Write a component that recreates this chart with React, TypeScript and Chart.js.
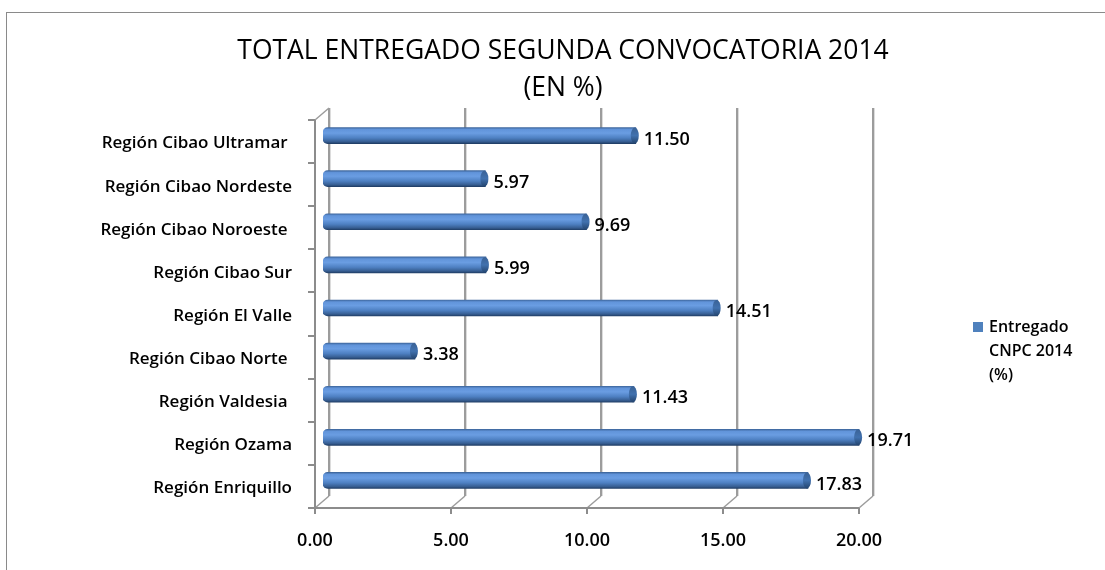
import React, { useEffect, useRef } from "react";
import { Chart, registerables } from "chart.js";

Chart.register(...registerables);

const categories = [
  "Región Cibao Ultramar ",
  "Región Cibao Nordeste",
  "Región Cibao Noroeste ",
  "Región Cibao Sur",
  "Región El Valle",
  "Región Cibao Norte ",
  "Región Valdesia ",
  "Región Ozama",
  "Región Enriquillo",
];
const values = [11.5, 5.97, 9.69, 5.99, 14.51, 3.38, 11.43, 19.71, 17.83];
const xTicks = [0, 5, 10, 15, 20];
const seriesLabel = "Entregado CNPC 2014 (%)";
const legendLines = ["Entregado", "CNPC 2014", "(%)"];
const titleLines = ["TOTAL ENTREGADO SEGUNDA CONVOCATORIA 2014", "(EN %)"];

const FONT = "'Open Sans', 'DejaVu Sans', sans-serif";
const FRONT_DX = -8;
const FRONT_DY = 6;
const BACK_DX = 6;
const BACK_DY = -6;

const wallsPlugin = {
  id: "walls3d",
  beforeDatasetsDraw(chart: any) {
    const ctx = chart.ctx;
    const xs = chart.scales.x;
    const ys = chart.scales.y;
    const { top, bottom } = chart.chartArea;
    ctx.save();
    xTicks.forEach((v) => {
      const x = Math.round(xs.getPixelForValue(v)) + BACK_DX;
      ctx.strokeStyle = "#dcdcdc";
      ctx.lineWidth = 1;
      ctx.beginPath();
      ctx.moveTo(x + 1.5, top + BACK_DY);
      ctx.lineTo(x + 1.5, bottom + BACK_DY);
      ctx.stroke();
      ctx.strokeStyle = "#9c9c9c";
      ctx.lineWidth = 2;
      ctx.beginPath();
      ctx.moveTo(x, top + BACK_DY);
      ctx.lineTo(x, bottom + BACK_DY);
      ctx.stroke();
      ctx.lineWidth = 1.5;
      ctx.beginPath();
      ctx.moveTo(x - BACK_DX + FRONT_DX, bottom + FRONT_DY);
      ctx.lineTo(x, bottom + BACK_DY);
      ctx.stroke();
    });
    const x0 = Math.round(xs.getPixelForValue(0));
    ctx.strokeStyle = "#9c9c9c";
    ctx.lineWidth = 1.5;
    ctx.beginPath();
    ctx.moveTo(x0 + FRONT_DX, top + FRONT_DY);
    ctx.lineTo(x0 + BACK_DX, top + BACK_DY);
    ctx.stroke();
    ctx.strokeStyle = "#8c8c8c";
    ctx.lineWidth = 2;
    ctx.beginPath();
    ctx.moveTo(x0 + FRONT_DX, top + FRONT_DY);
    ctx.lineTo(x0 + FRONT_DX, bottom + FRONT_DY + 1);
    ctx.stroke();
    for (let i = 0; i <= categories.length; i++) {
      const y = Math.round(ys.getPixelForValue(i - 0.5)) + FRONT_DY;
      ctx.beginPath();
      ctx.moveTo(x0 + FRONT_DX - 7, y);
      ctx.lineTo(x0 + FRONT_DX, y);
      ctx.stroke();
    }
    const x20 = Math.round(xs.getPixelForValue(20));
    const yb = Math.round(bottom) + FRONT_DY;
    ctx.beginPath();
    ctx.moveTo(x0 + FRONT_DX - 7, yb);
    ctx.lineTo(x20 + FRONT_DX, yb);
    ctx.stroke();
    xTicks.forEach((v) => {
      const x = Math.round(xs.getPixelForValue(v)) + FRONT_DX;
      ctx.beginPath();
      ctx.moveTo(x, yb);
      ctx.lineTo(x, yb + 6);
      ctx.stroke();
    });
    ctx.restore();
  },
  afterDatasetsDraw(chart: any) {
    const ctx = chart.ctx;
    const meta = chart.getDatasetMeta(0);
    ctx.save();
    meta.data.forEach((bar: any, i: number) => {
      const h = bar.height;
      const xe = bar.x;
      const yc = bar.y;
      const g = ctx.createLinearGradient(0, yc - h / 2, 0, yc + h / 2);
      g.addColorStop(0, "#3a6296");
      g.addColorStop(0.5, "#4171ae");
      g.addColorStop(1, "#23446e");
      ctx.fillStyle = g;
      ctx.beginPath();
      ctx.ellipse(xe - 1, yc, 4, h / 2, 0, 0, Math.PI * 2);
      ctx.fill();
      ctx.fillStyle = "#000";
      ctx.font = `600 18px ${FONT}`;
      ctx.textAlign = "left";
      ctx.textBaseline = "middle";
      ctx.fillText(values[i].toFixed(2), xe + 8, yc + 4);
    });
    ctx.restore();
  },
  afterDraw(chart: any) {
    const ctx = chart.ctx;
    ctx.save();
    ctx.fillStyle = "#000";
    ctx.textAlign = "center";
    ctx.textBaseline = "middle";
    ctx.font = `500 26.5px ${FONT}`;
    ctx.fillText(titleLines[0], 563, 51);
    ctx.fillText(titleLines[1], 563, 88);
    ctx.fillStyle = "#4f81bd";
    ctx.fillRect(973, 322, 10, 10);
    ctx.fillStyle = "#000";
    ctx.textAlign = "left";
    ctx.font = `600 16px ${FONT}`;
    legendLines.forEach((l, i) => {
      ctx.fillText(l, 989, 327 + i * 24);
    });
    ctx.restore();
  },
};

export default function App() {
  const ref = useRef<HTMLCanvasElement | null>(null);
  useEffect(() => {
    if (!ref.current) return;
    const chart = new Chart(ref.current, {
      type: "bar",
      data: {
        labels: categories,
        datasets: [
          {
            label: seriesLabel,
            data: values,
            barThickness: 16,
            borderRadius: { topLeft: 5, bottomLeft: 5, topRight: 0, bottomRight: 0 },
            borderSkipped: false,
            borderWidth: 0,
            backgroundColor: (c: any) => {
              const chart = c.chart;
              const ys = chart.scales?.y;
              if (!chart.chartArea || !ys || c.dataIndex === undefined) return "#4f81bd";
              const yc = ys.getPixelForValue(c.dataIndex);
              const g = chart.ctx.createLinearGradient(0, yc - 8, 0, yc + 8);
              g.addColorStop(0, "#3f689f");
              g.addColorStop(0.12, "#6194da");
              g.addColorStop(0.35, "#6a9de2");
              g.addColorStop(0.65, "#4e80c2");
              g.addColorStop(0.88, "#375e92");
              g.addColorStop(1, "#213f68");
              return g;
            },
          },
        ],
      },
      options: {
        indexAxis: "y",
        animation: false,
        responsive: false,
        maintainAspectRatio: false,
        layout: { padding: { top: 114, right: 238, bottom: 0, left: 0 } },
        plugins: {
          legend: { display: false },
          title: { display: false },
          tooltip: { enabled: false },
        },
        scales: {
          x: {
            min: 0,
            max: 20,
            afterBuildTicks: (s: any) => {
              s.ticks = xTicks.map((v) => ({ value: v }));
            },
            afterFit: (s: any) => {
              s.height = 68;
            },
            grid: { display: false, drawTicks: false },
            border: { display: false },
            ticks: {
              color: "#000",
              font: { family: FONT, size: 18, weight: "600" },
              padding: 28,
              labelOffset: -8,
              maxRotation: 0,
              callback: (v: any) => Number(v).toFixed(2),
            },
          },
          y: {
            afterFit: (s: any) => {
              s.width = 323;
            },
            grid: { display: false, drawTicks: false },
            border: { display: false },
            ticks: {
              color: "#000",
              font: { family: FONT, size: 17, weight: "600" },
              padding: 31,
              labelOffset: 8,
            },
          },
        },
      },
      plugins: [wallsPlugin],
    } as any);
    return () => chart.destroy();
  }, []);
  return (
    <div style={{ position: "fixed", left: 0, top: 0, width: 1105, height: 570, background: "#fff", overflow: "hidden" }}>
      <div
        style={{
          position: "absolute",
          left: 6,
          top: 12,
          width: 1200,
          height: 700,
          border: "1px solid #8a8a8a",
          boxSizing: "border-box",
        }}
      />
      <canvas ref={ref} width={1105} height={570} style={{ position: "absolute", left: 0, top: 0 }} />
    </div>
  );
}
